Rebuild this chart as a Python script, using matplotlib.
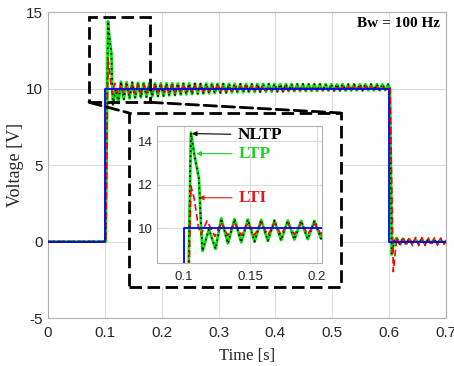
import matplotlib
matplotlib.use("Agg")
import matplotlib.pyplot as plt
from matplotlib.patches import Rectangle, ConnectionPatch

plt.rcParams['axes.unicode_minus'] = False

# ---------------- data ----------------
x_ticks = [0, 0.1, 0.2, 0.3, 0.4, 0.5, 0.6, 0.7]
x_tick_labels = ["0", "0.1", "0.2", "0.3", "0.4", "0.5", "0.6", "0.7"]
y_ticks = [-5, 0, 5, 10, 15]
y_tick_labels = ["-5", "0", "5", "10", "15"]
inset_x_ticks = [0.1, 0.15, 0.2]
inset_x_tick_labels = ["0.1", "0.15", "0.2"]
inset_y_ticks = [10, 12, 14]
inset_y_tick_labels = ["10", "12", "14"]

ref_t = [0.0, 0.1, 0.1, 0.6, 0.6, 0.7]
ref_v = [0.0, 0.0, 10.0, 10.0, 0.0, 0.0]

osc_t = [0.2033, 0.2083, 0.2133, 0.2183, 0.2233, 0.2283, 0.2333, 0.2383, 0.2433, 0.2483,
         0.2533, 0.2583, 0.2633, 0.2683, 0.2733, 0.2783, 0.2833, 0.2883, 0.2933, 0.2983,
         0.3033, 0.3083, 0.3133, 0.3183, 0.3233, 0.3283, 0.3333, 0.3383, 0.3433, 0.3483,
         0.3533, 0.3583, 0.3633, 0.3683, 0.3733, 0.3783, 0.3833, 0.3883, 0.3933, 0.3983,
         0.4033, 0.4083, 0.4133, 0.4183, 0.4233, 0.4283, 0.4333, 0.4383, 0.4433, 0.4483,
         0.4533, 0.4583, 0.4633, 0.4683, 0.4733, 0.4783, 0.4833, 0.4883, 0.4933, 0.4983,
         0.5033, 0.5083, 0.5133, 0.5183, 0.5233, 0.5283, 0.5333, 0.5383, 0.5433, 0.5483,
         0.5533, 0.5583, 0.5633, 0.5683, 0.5733, 0.5783, 0.5833, 0.5883, 0.5933, 0.5983]

ltp_t = ([0.0, 0.1015, 0.1055, 0.1080, 0.1115, 0.1132, 0.1142, 0.1190, 0.1240,
          0.1283, 0.1333, 0.1383, 0.1433, 0.1483, 0.1533, 0.1583, 0.1633, 0.1683,
          0.1733, 0.1783, 0.1833, 0.1883, 0.1933, 0.1983]
         + osc_t
         + [0.6015, 0.6045, 0.6090, 0.6130, 0.6185, 0.6240, 0.6295, 0.6350, 0.6405,
            0.6460, 0.6515, 0.6570, 0.6625, 0.6680, 0.6735, 0.6790, 0.6845, 0.6900,
            0.6955, 0.7000])
ltp_v = ([0.0, 0.0, 14.4, 13.4, 12.3, 10.0, 8.95, 9.95, 9.05,
          10.45, 9.30, 10.42, 9.35, 10.40, 9.38, 10.38, 9.42, 10.36,
          9.45, 10.35, 9.48, 10.34, 9.50, 10.34]
         + [9.52, 10.34, 9.55, 10.34, 9.57, 10.33, 9.60, 10.33, 9.62, 10.33,
            9.64, 10.32, 9.66, 10.32, 9.67, 10.32, 9.69, 10.32, 9.70, 10.31,
            9.72, 10.31, 9.73, 10.31, 9.74, 10.31, 9.75, 10.30, 9.76, 10.30,
            9.77, 10.30, 9.77, 10.30, 9.78, 10.30, 9.79, 10.30, 9.80, 10.30,
            9.80, 10.29, 9.81, 10.29, 9.82, 10.29, 9.82, 10.29, 9.83, 10.29,
            9.83, 10.29, 9.84, 10.29, 9.84, 10.29, 9.85, 10.28, 9.85, 10.28,
            9.86, 10.28, 9.86, 10.28, 9.86, 10.28, 9.87, 10.28, 9.87, 10.28,
            9.87, 10.28, 9.88, 10.28, 9.88, 10.28, 9.88, 10.28, 9.89, 10.28]
         + [10.0, -0.85, 0.05, 0.22, -0.15, 0.18, -0.13, 0.15, -0.12,
            0.13, -0.10, 0.12, -0.10, 0.10, -0.08, 0.10, -0.08, 0.08,
            -0.06, 0.0])

# NLTP lies on top of LTP throughout
nltp_t = list(ltp_t)
nltp_v = list(ltp_v)

lti_t = ([0.0, 0.1015, 0.1055, 0.1080, 0.1110, 0.1130, 0.1176, 0.1235,
          0.1283, 0.1333, 0.1383, 0.1433, 0.1483, 0.1533, 0.1583, 0.1633, 0.1683,
          0.1733, 0.1783, 0.1833, 0.1883, 0.1933, 0.1983]
         + osc_t
         + [0.6015, 0.6073, 0.6135, 0.6190, 0.6245, 0.6300, 0.6355, 0.6410, 0.6465,
            0.6520, 0.6575, 0.6630, 0.6685, 0.6740, 0.6795, 0.6850, 0.6905, 0.6960,
            0.7000])
lti_v = ([0.0, 0.0, 11.95, 11.35, 10.10, 9.70, 10.34, 9.62,
          10.27, 9.66, 10.26, 9.67, 10.25, 9.68, 10.25, 9.69, 10.24,
          9.70, 10.23, 9.71, 10.23, 9.72, 10.22]
         + [9.73, 10.22, 9.74, 10.21, 9.75, 10.21, 9.76, 10.20, 9.77, 10.20,
            9.78, 10.19, 9.79, 10.19, 9.80, 10.18, 9.80, 10.18, 9.81, 10.18,
            9.82, 10.17, 9.82, 10.17, 9.83, 10.17, 9.83, 10.16, 9.84, 10.16,
            9.84, 10.16, 9.85, 10.16, 9.85, 10.15, 9.85, 10.15, 9.86, 10.15,
            9.86, 10.15, 9.86, 10.15, 9.87, 10.14, 9.87, 10.14, 9.87, 10.14,
            9.88, 10.14, 9.88, 10.14, 9.88, 10.14, 9.88, 10.13, 9.89, 10.13,
            9.89, 10.13, 9.89, 10.13, 9.89, 10.13, 9.89, 10.13, 9.90, 10.13,
            9.90, 10.13, 9.90, 10.13, 9.90, 10.13, 9.90, 10.12, 9.90, 10.12]
         + [10.0, -1.97, 0.30, -0.30, 0.29, -0.29, 0.28, -0.28, 0.27,
            -0.27, 0.26, -0.26, 0.25, -0.25, 0.24, -0.24, 0.23, -0.23,
            0.10])

# ---------------- styles ----------------
GREEN = "#00e600"
RED = "#ff0000"
BLUE = "#0000ff"
GRID = "#dcdcdc"
SPINE = "#b0b0b0"
TXT = "#262626"
SANS = "Liberation Sans"
SERIF = "Liberation Serif"


def draw_series(a):
    a.plot(ltp_t, ltp_v, color=GREEN, lw=2.0, zorder=3)
    a.plot(nltp_t, nltp_v, color="black", lw=1.2, ls=(0, (1, 2)), zorder=4)
    a.plot(lti_t, lti_v, color=RED, lw=1.2, ls=(0, (4, 2)), zorder=5)
    a.plot(ref_t, ref_v, color=BLUE, lw=1.3, zorder=6)


def style_axes(a, fs, xpad, ypad):
    a.grid(True, color=GRID, lw=0.8)
    a.set_axisbelow(True)
    for s in a.spines.values():
        s.set_color(SPINE)
        s.set_linewidth(0.8)
    a.tick_params(length=0, colors=TXT, labelsize=fs)
    a.tick_params(axis="x", pad=xpad)
    a.tick_params(axis="y", pad=ypad)
    for lab in a.get_xticklabels() + a.get_yticklabels():
        lab.set_fontfamily(SANS)


fig = plt.figure(figsize=(4.54, 3.66), dpi=100)
ax = fig.add_axes([0.1057, 0.1311, 0.8767, 0.836])
draw_series(ax)
ax.set_xlim(0, 0.7)
ax.set_ylim(-5, 15)
ax.set_xticks(x_ticks)
ax.set_xticklabels(x_tick_labels)
ax.set_yticks(y_ticks)
ax.set_yticklabels(y_tick_labels)
style_axes(ax, 11, 6, 3.5)
ax.set_xlabel("Time [s]", family=SERIF, fontsize=12, color=TXT, labelpad=5.5)
ax.set_ylabel("Voltage [V]", family=SERIF, fontsize=13, color=TXT, labelpad=1.5)
ax.text(0.985, 0.985, "Bw = 100 Hz", transform=ax.transAxes, ha="right", va="top",
        family=SERIF, fontweight="bold", fontsize=11, color="black")

# small dashed box in the main axes
dash = (0, (4.5, 2))
ax.add_patch(Rectangle((0.0722, 9.1), 0.1072, 5.55, fill=False, edgecolor="black",
                       lw=2.0, ls=dash, zorder=7))

# big dashed box (figure coords) behind the inset
bx0, by0, bx1, by1 = 0.2841, 0.2158, 0.7511, 0.6913
big = Rectangle((bx0, by0), bx1 - bx0, by1 - by0, transform=fig.transFigure,
                facecolor="white", edgecolor="black", lw=2.0, ls=dash, zorder=2)
fig.add_artist(big)
for (xa, ya), (xb, yb) in [((0.0722, 9.1), (bx0, by1)), ((0.1794, 9.1), (bx1, by1))]:
    con = ConnectionPatch(xyA=(xa, ya), coordsA="data", axesA=ax,
                          xyB=(xb, yb), coordsB="figure fraction",
                          color="black", lw=2.0, ls=dash, zorder=2)
    fig.add_artist(con)

# inset
axi = fig.add_axes([0.3458, 0.2814, 0.3634, 0.3743], zorder=5)
axi.set_facecolor("white")
draw_series(axi)
axi.set_xlim(0.08, 0.204)
axi.set_ylim(8.4, 14.7)
axi.set_xticks(inset_x_ticks)
axi.set_xticklabels(inset_x_tick_labels)
axi.set_yticks(inset_y_ticks)
axi.set_yticklabels(inset_y_tick_labels)
style_axes(axi, 9.5, 6, 3)

ann = dict(fontsize=12.5, fontweight="bold", family=SERIF, va="center", ha="left")
axi.annotate("NLTP", xy=(0.1062, 14.35), xytext=(0.1408, 14.3), color="black",
             arrowprops=dict(arrowstyle="-|>", color="black", lw=0.8, mutation_scale=7,
                             shrinkA=3, shrinkB=0), **ann)
axi.annotate("LTP", xy=(0.1095, 13.43), xytext=(0.1416, 13.43), color="#1fd41f",
             arrowprops=dict(arrowstyle="-|>", color="#1fd41f", lw=0.8, mutation_scale=7,
                             shrinkA=3, shrinkB=0), **ann)
axi.annotate("LTI", xy=(0.1115, 11.4), xytext=(0.1416, 11.4), color="#e41a1a",
             arrowprops=dict(arrowstyle="-|>", color="#e41a1a", lw=0.8, mutation_scale=7,
                             shrinkA=3, shrinkB=0), **ann)

fig.savefig("out.png", dpi=100)
